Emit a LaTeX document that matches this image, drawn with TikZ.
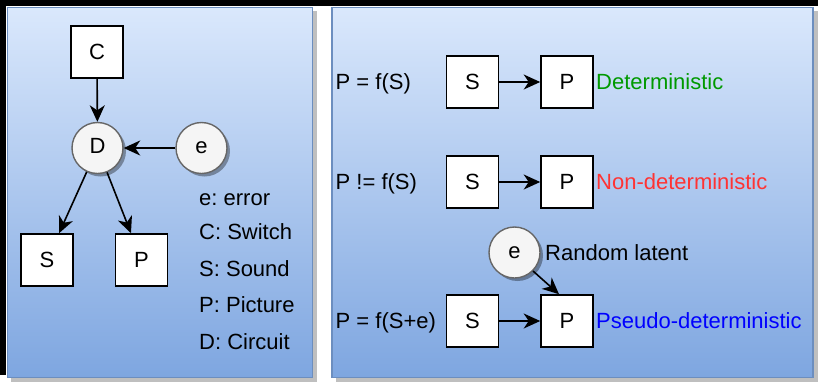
\documentclass[tikz,border=0pt]{standalone}
\usepackage{fontspec}
\setmainfont{Liberation Sans}
\frenchspacing
\usetikzlibrary{arrows.meta,shadows}
\definecolor{panelTop}{HTML}{DAE8FC}
\definecolor{panelBot}{HTML}{7EA6E0}
\definecolor{panelLine}{HTML}{6C8EBF}
\definecolor{circFill}{HTML}{F5F5F5}
\definecolor{circLine}{HTML}{666666}
\definecolor{detGreen}{HTML}{009900}
\definecolor{nonRed}{HTML}{FF3333}
\definecolor{pseudoBlue}{HTML}{0000FF}
\tikzset{
  every node/.style={font=\fontsize{22}{26}\selectfont},
  sq/.style={draw=black, fill=white, line width=1.6pt, minimum size=52pt, inner sep=0pt, text height=15.8pt, text depth=0pt},
  circ/.style={circle, draw=circLine, fill=circFill, line width=1.4pt, minimum size=51pt, inner sep=0pt, text height=11.5pt, text depth=0pt,
    drop shadow={shadow xshift=3pt, shadow yshift=-3pt, opacity=0.35, fill=black}},
  lbl/.style={anchor=west, inner sep=0pt, text height=15.8pt, text depth=0pt},
  arr/.style={line width=1.6pt, -{Stealth[length=16.5pt, width=15pt, inset=5pt]}},
  panel/.style={draw=panelLine, line width=1.6pt, top color=panelTop, bottom color=panelBot},
  panelshadow/.style={fill=black, opacity=0.25},
}
\begin{document}
\begin{tikzpicture}[x=1pt, y=-1pt]
\useasboundingbox (0,0) rectangle (818,383);
% screen edges
\fill[black] (0,0) rectangle (818,6);
\fill[black] (0,0) rectangle (6,375);
% panels with shadows
\path[panelshadow] (11,11) rectangle (317,382);
\path[panelshadow] (336,11) rectangle (818,382);
\path[panel] (7.5,7.5) rectangle (312.5,377.5);
\path[panel] (332,7.5) rectangle (813,377.5);

% ---- left panel ----
\node[sq] (C) at (97,52) {C};
\node[circ] (D) at (97.5,148) {D};
\node[circ] (e1) at (201.5,148) {e};
\node[sq] (S1) at (47,260) {S};
\node[sq] (P1) at (141.5,260) {P};
\draw[arr] (C) -- (D);
\draw[arr] (e1) -- (D);
\draw[arr] (D) -- (S1);
\draw[arr] (D) -- (P1);
\node[lbl] (l1) at (199,198) {e: error};
\node[lbl] (l2) at (199,232) {C: Switch};
\node[lbl] (l3) at (199,268.5) {S: Sound};
\node[lbl] (l4) at (199,305) {P: Picture};
\node[lbl] (l5) at (199,341.5) {D: Circuit};

% ---- right panel ----
\node[lbl] (f1) at (335.5,82) {P = f(S)};
\node[sq] (Sa) at (472.5,82) {S};
\node[sq] (Pa) at (567,82) {P};
\node[lbl, text=detGreen] (t1) at (596,82) {Deterministic};
\draw[arr] (Sa) -- (Pa);

\node[lbl] (f2) at (335.5,182) {P != f(S)};
\node[sq] (Sb) at (472.5,182) {S};
\node[sq] (Pb) at (567,182) {P};
\node[lbl, text=nonRed] (t2) at (596,182) {Non-deterministic};
\draw[arr] (Sb) -- (Pb);

\node[lbl] (f3) at (335.5,321) {P = f(S+e)};
\node[sq] (Sc) at (472.5,321) {S};
\node[sq] (Pc) at (567,321) {P};
\node[lbl, text=pseudoBlue] (t3) at (596,321) {Pseudo-deterministic};
\draw[arr] (Sc) -- (Pc);
\node[circ] (e3) at (514.5,252.5) {e};
\node[lbl] (rl) at (545,253) {Random latent};
\draw[arr] (e3.-45) -- ([xshift=-8pt]Pc.north);
\end{tikzpicture}
\end{document}
